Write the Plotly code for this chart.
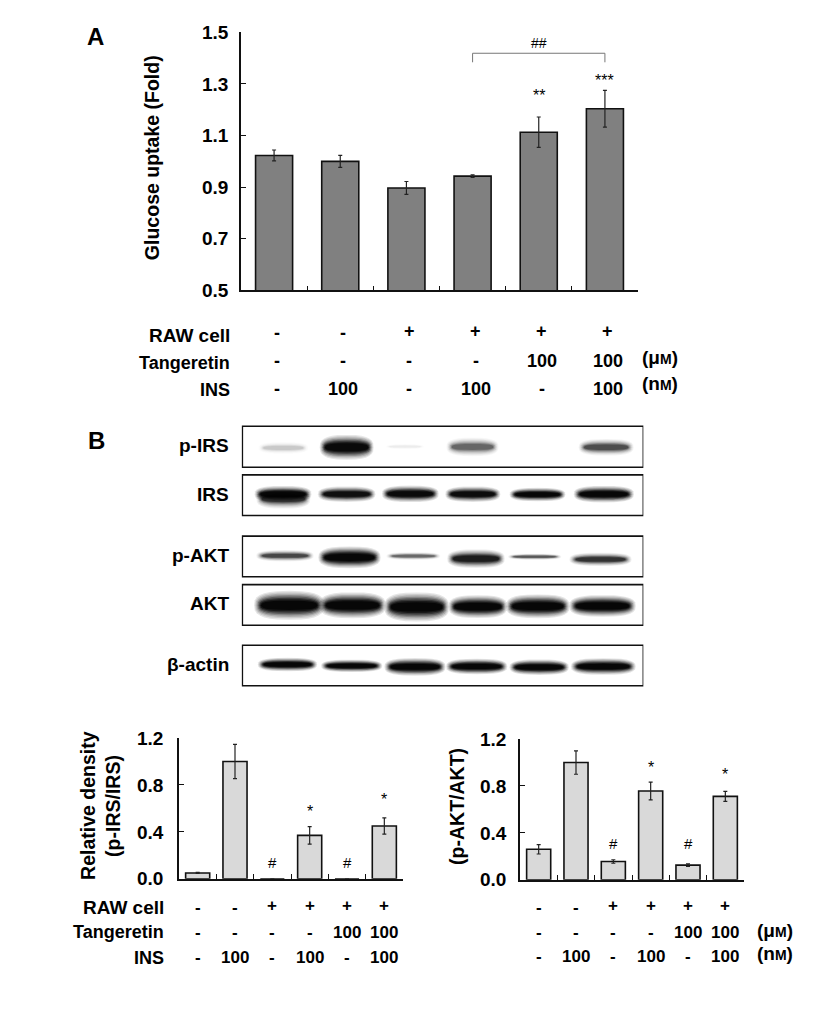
import math
import plotly.graph_objects as go

W, H = 827, 1009
FONT = "Liberation Sans"

# ---- data ----
lanes = [1, 2, 3, 4, 5, 6]
glucose = [1.023, 1.0, 0.897, 0.943, 1.113, 1.204]
glucose_err = [0.021, 0.023, 0.025, 0.005, 0.059, 0.071]
p_irs = [0.05, 1.0, 0.0, 0.37, 0.0, 0.45]
p_irs_err = [0.005, 0.146, 0.0, 0.075, 0.0, 0.07]
p_akt = [0.26, 1.0, 0.156, 0.757, 0.125, 0.711]
p_akt_err = [0.04, 0.1, 0.015, 0.075, 0.01, 0.043]

raw_row = ["-", "-", "+", "+", "+", "+"]
tang_row = ["-", "-", "-", "-", "100", "100"]
ins_row = ["-", "100", "-", "100", "-", "100"]
a_ticks = [0.5, 0.7, 0.9, 1.1, 1.3, 1.5]
b_ticks = [0.0, 0.4, 0.8, 1.2]

# western blot boxes: label, top, bottom (gel units)
blots = [("p-IRS", 32, 155), ("IRS", 178, 300), ("p-AKT", 362, 484), ("AKT", 508, 630), ("β-actin", 690, 812)]
# bands: left, right, centre y, height, strength
bands_pirs = [(300, 440, 97, 24, 0.09), (485, 635, 95, 48, 0.95), (680, 790, 93, 12, 0.03), (865, 1010, 94, 36, 0.33), (1262, 1415, 95, 32, 0.42)]
bands_irs = [(295, 445, 250, 38, 0.5), (290, 448, 236, 32, 0.95), (480, 640, 236, 30, 0.85), (672, 830, 235, 32, 0.95), (862, 1015, 236, 30, 0.9), (1055, 1210, 237, 26, 1.0), (1248, 1415, 236, 32, 1.0)]
bands_pakt = [(295, 455, 421, 22, 0.45), (482, 655, 426, 42, 1.0), (685, 835, 422, 15, 0.32), (868, 1028, 430, 36, 0.7), (1050, 1198, 424, 12, 0.38), (1235, 1408, 432, 26, 0.55)]
bands_akt = [(290, 485, 570, 56, 1.0), (485, 670, 570, 50, 1.0), (680, 860, 575, 56, 1.0), (872, 1035, 574, 44, 1.0), (1045, 1222, 573, 46, 1.0), (1235, 1420, 572, 42, 1.0)]
bands_actin = [(300, 465, 748, 26, 1.0), (490, 660, 752, 24, 1.0), (680, 850, 755, 34, 1.0), (865, 1035, 754, 30, 1.0), (1055, 1220, 756, 30, 1.0), (1240, 1420, 754, 32, 1.0)]


def px(x):
    return x / W


def py(y):
    return 1 - ((y - 9.6) / 0.981) / H


fig = go.Figure()
annotations = []
shapes = []


def text(t, x, y, size=18, bold=True, xref="paper", xanchor="center", xshift=0, color="black", angle=0):
    annotations.append(dict(
        text=t, x=x if xref != "paper" else px(x), y=py(y), xref=xref, yref="paper",
        xanchor=xanchor, yanchor="middle", xshift=xshift, showarrow=False, textangle=angle,
        font=dict(family=FONT, size=size, color=color, weight=700 if bold else 400),
    ))


def bar_panel(i, vals, errs, fill, x0, x1, ytop, ybot, yrange, ticks, barw, tsize, standoff):
    sfx = "" if i == 1 else str(i)
    fig.add_trace(go.Bar(
        x=lanes, y=vals, width=barw, xaxis="x" + sfx, yaxis="y" + sfx,
        marker=dict(color=fill, line=dict(color="#111111", width=1.6)),
        error_y=dict(type="data", array=errs, color="#222222", thickness=1.2, width=2),
        showlegend=False,
    ))
    fig.update_layout({
        "xaxis" + sfx: dict(domain=[px(x0), px(x1)], range=[0.5, 6.5], anchor="y" + sfx,
                            tickmode="array", tickvals=[0.5 + k for k in range(7)], ticktext=[""] * 7,
                            ticks="inside", ticklen=5, tickwidth=1.4, tickcolor="#111111",
                            showline=True, linecolor="#111111", linewidth=1.6, showgrid=False, zeroline=False),
        "yaxis" + sfx: dict(domain=[py(ybot), py(ytop)], range=yrange, anchor="x" + sfx,
                            tickmode="array", tickvals=ticks, ticktext=["%.1f" % v for v in ticks],
                            ticks="inside", ticklen=5, tickwidth=1.4, tickcolor="#111111", ticklabelstandoff=standoff,
                            tickfont=dict(family=FONT, size=tsize, color="black", weight=700),
                            showline=True, linecolor="#111111", linewidth=1.6, showgrid=False, zeroline=False),
    })


bar_panel(1, glucose, glucose_err, "#808080", 241, 638, 32, 290.5, [0.5, 1.5], a_ticks, 0.56, 19, 7)
bar_panel(2, p_irs, p_irs_err, "#d9d9d9", 179, 403, 739, 880, [0, 1.2], b_ticks, 0.645, 19, 10)
bar_panel(3, p_akt, p_akt_err, "#d9d9d9", 520, 744, 740, 881, [0, 1.2], b_ticks, 0.645, 19, 8)


def rows(xref, ys, shift, size=18):
    for row, y in zip((raw_row, tang_row, ins_row), ys):
        for lane, t in zip(lanes, row):
            yy = y - (2 if t == "+" else 0)
            text(t, lane, yy, size=size, xref=xref, xshift=shift)


UM = '(μ<span style="font-size:14px">M</span>)'
NM = '(n<span style="font-size:14px">M</span>)'

# Panel A
text("A", 95, 36, size=24)
text("B", 96, 441, size=24)
rows("x", (333, 361, 389), 3)
text("RAW cell", 232, 336, size=19, xanchor="right")
text("Tangeretin", 232, 363, xanchor="right")
text("INS", 232, 390, xanchor="right")
text(UM, 660, 358, size=19)
text(NM, 660, 384, size=19)
text("Glucose uptake (Fold)", 152, 158, size=19.5, angle=-90)
fig.add_trace(go.Scatter(x=[4, 4, 6, 6], y=[1.384, 1.419, 1.419, 1.384], mode="lines", xaxis="x", yaxis="y",
                         line=dict(color="#777777", width=1), showlegend=False, hoverinfo="skip"))
text("##", 5, 43, size=14, bold=False, xref="x")
text("**", 5, 95, size=16, bold=False, xref="x")
text("***", 6, 80, size=16, bold=False, xref="x")

# Panel B left
rows("x2", (909, 934, 959), 0, size=17)
text("RAW cell", 166, 909, size=19, xanchor="right")
text("Tangeretin", 166, 933, xanchor="right")
text("INS", 166, 959, xanchor="right")
text("Relative density", 88, 807, size=19.5, angle=-90)
text("(p-IRS/IRS)", 113, 807, size=19.5, angle=-90)
text("*", 4, 813, size=16, bold=False, xref="x2")
text("*", 6, 801, size=16, bold=False, xref="x2")
text("#", 3, 864, size=15, bold=False, xref="x2")
text("#", 5, 864, size=15, bold=False, xref="x2")

# Panel B right
rows("x3", (909, 934, 958), 0, size=17)
text(UM, 775, 932, size=19)
text(NM, 775, 955, size=19)
text("(p-AKT/AKT)", 457, 808, size=19.5, angle=-90)
text("*", 4, 769, size=16, bold=False, xref="x3")
text("*", 6, 776, size=16, bold=False, xref="x3")
text("#", 3, 845, size=15, bold=False, xref="x3")
text("#", 5, 845, size=15, bold=False, xref="x3")

# Western blot axis (gel units; 3 units = 1 px)
fig.add_trace(go.Scatter(x=[245, 1450], y=[0, 830], mode="markers", marker=dict(opacity=0), xaxis="x4", yaxis="y4",
                         showlegend=False, hoverinfo="skip"))
fig.update_layout(
    xaxis4=dict(domain=[px(160 + 245 / 3), px(160 + 1450 / 3)], range=[245, 1450], visible=False, anchor="y4"),
    yaxis4=dict(domain=[py(416 + 830 / 3), py(416)], range=[830, 0], visible=False, anchor="x4"),
)


def super_ellipse(cx, cy, a, b, n=28, p=2.8):
    pts = []
    for k in range(n):
        th = 2 * math.pi * k / n
        c, s = math.cos(th), math.sin(th)
        pts.append((cx + a * abs(c) ** (2 / p) * (1 if c >= 0 else -1),
                    cy + b * abs(s) ** (2 / p) * (1 if s >= 0 else -1)))
    return "M " + " L ".join("%.1f %.1f" % q for q in pts) + " Z"


LAYERS = 8
for group in (bands_pirs, bands_irs, bands_pakt, bands_akt, bands_actin):
    for left, right, cy, ht, s in group:
        cx, a, b = (left + right) / 2, (right - left) / 2, ht / 2
        for k in range(LAYERS):
            f = k / (LAYERS - 1)
            sx = 1.08 - 0.22 * f
            sy = 1.55 - 1.05 * f
            op = min(0.9, s * (0.1 + 0.6 * f * f))
            shapes.append(dict(type="path", xref="x4", yref="y4", path=super_ellipse(cx, cy, a * sx, b * sy),
                               fillcolor="black", opacity=op, line=dict(width=0)))

for name, top, bot in blots:
    shapes.append(dict(type="rect", xref="x4", yref="y4", x0=247, x1=1450, y0=top, y1=bot,
                       line=dict(color="#111111", width=1.6), fillcolor="rgba(0,0,0,0)"))
    text(name, 231, 416 + (top + bot) / 6 - 1, size=19, xanchor="right")

fig.update_layout(
    width=W, height=H, margin=dict(l=0, r=0, t=0, b=0), autosize=False,
    paper_bgcolor="white", plot_bgcolor="white", showlegend=False,
    annotations=annotations, shapes=shapes, bargap=0.4,
    font=dict(family=FONT),
)
fig.write_html("out.html", post_script="document.body.style.margin='0';", config={"displayModeBar": False})
